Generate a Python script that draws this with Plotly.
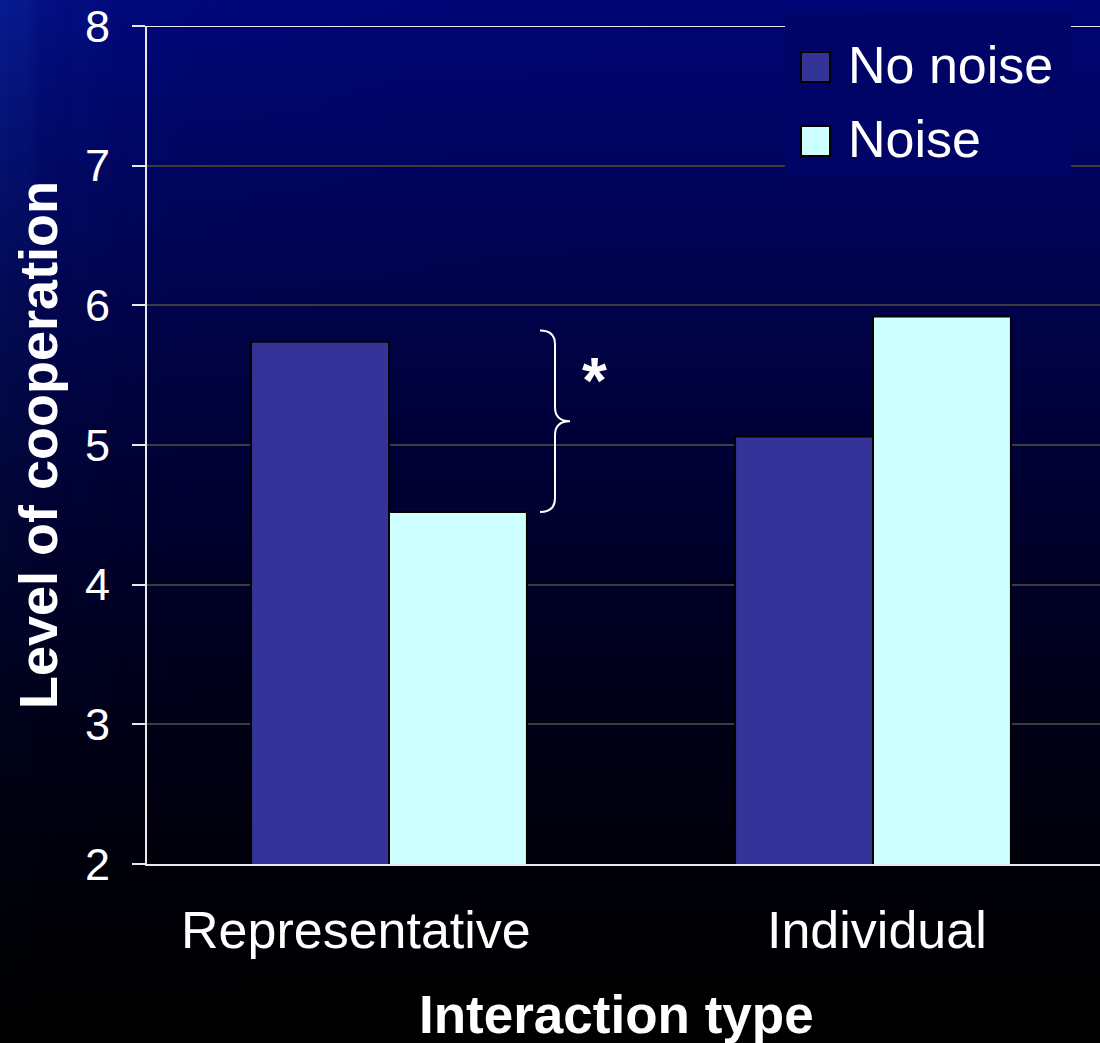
import base64
import struct
import zlib

import numpy as np
import plotly.graph_objects as go

# ---- data -------------------------------------------------------------
categories = ["Representative", "Individual"]
series_names = ["No noise", "Noise"]
no_noise = [5.74, 5.06]
noise = [4.52, 5.92]
y_ticks = [2, 3, 4, 5, 6, 7, 8]

# ---- styling ----------------------------------------------------------
W, H = 1100, 1043
M_L, M_R, M_T, M_B = 147, 0, 26, 179
FONT = "Arial, 'Liberation Sans', sans-serif"
COL_NO_NOISE = "#333399"
COL_NOISE = "#CCFFFF"
GRID = "#3c3c3c"


def backdrop_rgb(u, t):
    """Colour of the slide backdrop at relative position (u across, t down)."""
    blue = 118 * (1 - t) ** 1.35
    green = 5 * (1 - t) ** 2
    red = np.zeros_like(blue)
    streak = 0.6 + 0.4 * (np.sin(u * 97.0) * 0.5 + np.sin(u * 263.0 + 1.3) * 0.3
                          + np.sin(u * 41.0 + 0.4) * 0.2)
    glow = np.exp(-u / 0.06) * np.exp(-t / 0.35) * streak * 0.55
    glow2 = np.exp(-u / 0.2) * np.exp(-t / 0.2) * 0.15
    g = glow + glow2
    return red + 14 * g, green + 42 * g, blue + 50 * g


def background_png(w, h):
    yy, xx = np.mgrid[0:h, 0:w].astype(float)
    r, g, b = backdrop_rgb(xx / (w - 1), yy / (h - 1))
    img = np.clip(np.stack([r, g, b], axis=-1), 0, 255).astype(np.uint8)
    raw = b"".join(b"\x00" + img[row].tobytes() for row in range(h))

    def chunk(tag, data):
        c = struct.pack(">I", len(data)) + tag + data
        return c + struct.pack(">I", zlib.crc32(tag + data) & 0xFFFFFFFF)

    png = b"\x89PNG\r\n\x1a\n"
    png += chunk(b"IHDR", struct.pack(">IIBBBBB", w, h, 8, 2, 0, 0, 0))
    png += chunk(b"IDAT", zlib.compress(raw, 9))
    png += chunk(b"IEND", b"")
    return "data:image/png;base64," + base64.b64encode(png).decode()


fig = go.Figure()
fig.add_trace(go.Bar(
    x=categories, y=no_noise, name=series_names[0],
    marker=dict(color=COL_NO_NOISE, line=dict(color="black", width=2)),
    showlegend=False,
))
fig.add_trace(go.Bar(
    x=categories, y=noise, name=series_names[1],
    marker=dict(color=COL_NOISE, line=dict(color="black", width=2)),
    showlegend=False,
))

pw = W - M_L - M_R
ph = H - M_T - M_B


def px_x(p):
    return (p - M_L) / pw


def px_y(p):
    return (H - M_B - p) / ph


shapes = []
annotations = []

# top frame line at the axis maximum
shapes.append(dict(type="line", xref="paper", yref="y", x0=-13 / pw, x1=1,
                   y0=y_ticks[-1], y1=y_ticks[-1],
                   line=dict(color="#e8e8e8", width=2), layer="above"))

# significance brace between the Representative bars
b_top = no_noise[0] + 0.08
b_bot = noise[0]
b_mid = (b_top + b_bot) / 2
xl, xv, xp = 0.312, 0.343, 0.374
dy = 0.1
brace = (f"M {xl},{b_top} Q {xv},{b_top} {xv},{b_top - dy} "
         f"L {xv},{b_mid + dy} Q {xv},{b_mid} {xp},{b_mid} "
         f"Q {xv},{b_mid} {xv},{b_mid - dy} "
         f"L {xv},{b_bot + dy} Q {xv},{b_bot} {xl},{b_bot}")
shapes.append(dict(type="path", xref="x", yref="y", path=brace,
                   line=dict(color="white", width=2)))
annotations.append(dict(xref="x", yref="y", x=0.424, y=b_mid + 0.29, text="<b>*</b>",
                        showarrow=False, font=dict(family=FONT, size=64, color="white"),
                        xanchor="center", yanchor="middle"))

# legend panel, filled with the backdrop colour behind it
lr, lg, lb = backdrop_rgb(np.array([928 / W]), np.array([95 / H]))
legend_fill = f"rgb({int(lr[0])},{int(lg[0])},{int(lb[0])})"
shapes.append(dict(type="rect", xref="paper", yref="paper",
                   x0=px_x(785), x1=px_x(1071), y0=px_y(176), y1=px_y(14),
                   fillcolor=legend_fill, line=dict(width=0), layer="above"))
legend_rows = [(series_names[0], COL_NO_NOISE, 67), (series_names[1], COL_NOISE, 141)]
for name, col, cy in legend_rows:
    shapes.append(dict(type="rect", xref="paper", yref="paper",
                       x0=px_x(801), x1=px_x(830), y0=px_y(cy + 15), y1=px_y(cy - 15),
                       fillcolor=col, line=dict(color="black", width=2), layer="above"))
    annotations.append(dict(xref="paper", yref="paper", x=px_x(846), y=px_y(cy - 2),
                            text=name, showarrow=False, xanchor="left", yanchor="middle",
                            font=dict(family=FONT, size=52, color="white")))

# category labels under the bars
for cat, shift in zip(categories, [-33, 4]):
    annotations.append(dict(xref="x", yref="paper", x=cat, y=px_y(930), xshift=shift,
                            text=cat, showarrow=False, xanchor="center", yanchor="middle",
                            font=dict(family=FONT, size=52, color="white")))

# axis titles
annotations.append(dict(xref="paper", yref="paper", x=px_x(616), y=px_y(1014),
                        text="<b>Interaction type</b>", showarrow=False,
                        xanchor="center", yanchor="middle",
                        font=dict(family=FONT, size=53, color="white")))
annotations.append(dict(xref="paper", yref="paper", x=px_x(38), y=px_y(445),
                        text="<b>Level of cooperation</b>", showarrow=False, textangle=-90,
                        xanchor="center", yanchor="middle",
                        font=dict(family=FONT, size=54, color="white")))

fig.update_layout(
    width=W, height=H,
    margin=dict(l=M_L, r=M_R, t=M_T, b=M_B, pad=0),
    paper_bgcolor="black",
    plot_bgcolor="rgba(0,0,0,0)",
    barmode="group", bargap=0.43, bargroupgap=0,
    showlegend=False,
    font=dict(family=FONT, color="white"),
    images=[dict(source=background_png(550, 522), xref="paper", yref="paper",
                 x=-M_L / pw, y=1 + M_T / ph, sizex=W / pw, sizey=H / ph,
                 xanchor="left", yanchor="top", sizing="stretch", layer="below")],
    shapes=shapes,
    annotations=annotations,
)
fig.update_xaxes(
    type="category", range=[-0.5, 1.469], showticklabels=False, ticks="",
    showgrid=False, showline=True, linecolor="#e8e8e8", linewidth=2, zeroline=False,
)
fig.update_yaxes(
    range=[y_ticks[0], y_ticks[-1]], tickvals=y_ticks, ticks="outside", ticklen=13,
    tickwidth=2, tickcolor="#e8e8e8", ticklabelstandoff=13,
    tickfont=dict(family=FONT, size=45, color="white"),
    showgrid=True, gridcolor=GRID, gridwidth=2,
    showline=True, linecolor="#e8e8e8", linewidth=2, zeroline=False,
)

fig.write_html("out.html")
